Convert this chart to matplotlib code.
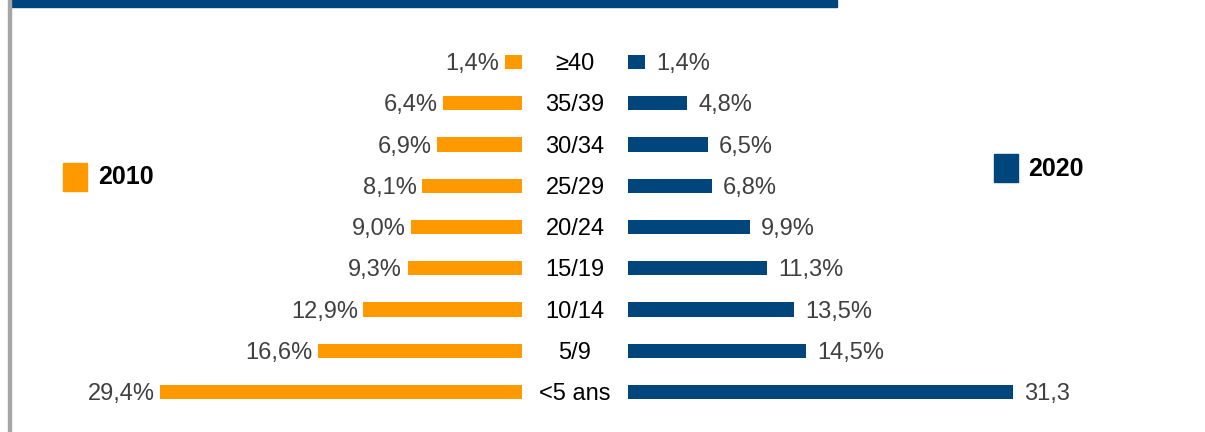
import matplotlib
matplotlib.use('Agg')
from matplotlib import pyplot as plt
from matplotlib.patches import Rectangle

plt.rcParams['font.family'] = ['Liberation Sans', 'DejaVu Sans']

# age groups, bottom to top
groups = ['<5 ans', '5/9', '10/14', '15/19', '20/24', '25/29', '30/34', '35/39', '\u226540']
v2010 = [29.4, 16.6, 12.9, 9.3, 9.0, 8.1, 6.9, 6.4, 1.4]
v2020 = [31.3, 14.5, 13.5, 11.3, 9.9, 6.8, 6.5, 4.8, 1.4]
lab2010 = ['29,4%', '16,6%', '12,9%', '9,3%', '9,0%', '8,1%', '6,9%', '6,4%', '1,4%']
lab2020 = ['31,3', '14,5%', '13,5%', '11,3%', '9,9%', '6,8%', '6,5%', '4,8%', '1,4%']

orange = '#FF9900'
blue = '#00467C'

W, H = 1205, 432
fig = plt.figure(figsize=(W / 100, H / 100), dpi=100)
ax = fig.add_axes([0, 0, 1, 1])

# scale: ~12.3 px per percent point, 0 at the inner edge of 2010 bars
pxu = 12.3
x0 = 522 / pxu
gap = 106 / pxu
ax.set_xlim(-x0, W / pxu - x0)
rowpx = 41.25
ax.set_ylim((392 - H) / rowpx, 392 / rowpx)
ax.axis('off')

ys = list(range(len(groups)))
ax.barh(ys, [-v for v in v2010], height=0.34, color=orange)
ax.barh(ys, v2020, left=gap, height=0.34, color=blue)

for y, v, t in zip(ys, v2010, lab2010):
    ax.text(-v - 0.45, y - 0.05, t, ha='right', va='center', fontsize=17, color='#404040')
for y, v, t in zip(ys, v2020, lab2020):
    ax.text(gap + v + 0.9, y - 0.05, t, ha='left', va='center', fontsize=17, color='#404040')
for y, g in zip(ys, groups):
    ax.text(gap / 2, y - 0.05, g, ha='center', va='center', fontsize=17, color='black')

# legend-like labels
fig.patches.append(Rectangle((63 / W, 1 - 191 / H), 24 / W, 28 / H,
                             transform=fig.transFigure, color=orange))
fig.text(98 / W, 1 - 177 / H, '2010', fontsize=18, fontweight='bold',
         va='center', ha='left')
fig.patches.append(Rectangle((994 / W, 1 - 182 / H), 24 / W, 28 / H,
                             transform=fig.transFigure, color=blue))
fig.text(1028 / W, 1 - 169 / H, '2020', fontsize=18, fontweight='bold',
         va='center', ha='left')

# frame bits: top band and left rule
fig.patches.append(Rectangle((10 / W, 1 - 7 / H), 827 / W, 7 / H,
                             transform=fig.transFigure, color=blue))
fig.patches.append(Rectangle((8 / W, 0), 3 / W, 1,
                             transform=fig.transFigure, color='#A6A6A6'))

fig.savefig('out.png', dpi=100)
